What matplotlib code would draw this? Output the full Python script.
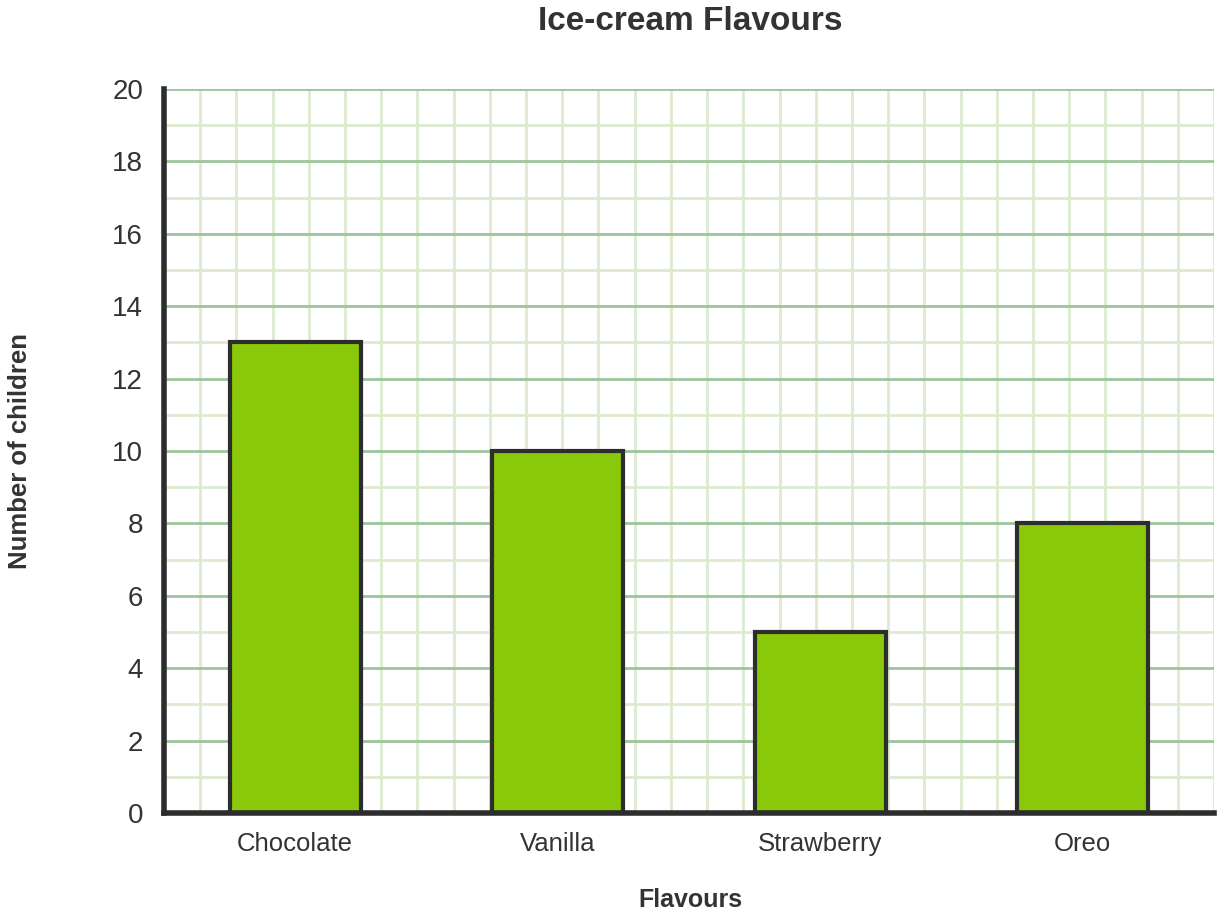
import numpy as np
import matplotlib.pyplot as plt

plt.rcParams['font.family'] = ['Liberation Sans', 'DejaVu Sans']

# data
flavours = ["Chocolate", "Vanilla", "Strawberry", "Oreo"]
children = [13, 10, 5, 8]
y_ticks = list(range(0, 21, 2))

TXT = "#333333"
W, H = 1224, 917
fig = plt.figure(figsize=(12.24, 9.17), dpi=100)
ax = fig.add_axes([164/W, 104/H, 1050/W, 724/H])

x = np.arange(len(flavours))
ax.set_xlim(-0.5, len(flavours) - 0.5)
ax.set_ylim(0, 20)

# grid: minor horizontal every 1, major every 2, vertical squares
for v in range(1, 20, 2):
    ax.axhline(v, color="#dcebd0", lw=2, zorder=0)
for v in range(2, 21, 2):
    ax.axhline(v, color="#9dc49d", lw=2, zorder=0.5)
for gx in np.linspace(-0.5, len(flavours) - 0.5, 30)[1:]:
    ax.axvline(gx, color="#dcebd0", lw=2, zorder=0)

ax.bar(x, children, width=0.5, color="#8ac80a", edgecolor="#2d2d2d",
       linewidth=3, zorder=2)

for s in ["top", "right"]:
    ax.spines[s].set_visible(False)
for s in ["left", "bottom"]:
    ax.spines[s].set_color("#2d2d2d")
    ax.spines[s].set_linewidth(4)
    ax.spines[s].set_zorder(3)

ax.set_xticks(x)
ax.set_xticklabels(flavours)
ax.set_yticks(y_ticks)
ax.tick_params(axis='both', length=0, colors=TXT)
ax.tick_params(axis='x', pad=14, labelsize=18.5)
ax.tick_params(axis='y', pad=15, labelsize=20)

fig.text(690/W, 1 - 22/H, "Ice-cream Flavours", fontsize=24, fontweight="bold",
         color=TXT, ha="center", va="center")
fig.text(690/W, 1 - 900/H, "Flavours", fontsize=18, fontweight="bold",
         color=TXT, ha="center", va="center")
fig.text(20/W, 1 - 451/H, "Number of children", fontsize=18.5, fontweight="bold",
         color=TXT, ha="center", va="center", rotation=90)

fig.savefig("out.png", dpi=100)
